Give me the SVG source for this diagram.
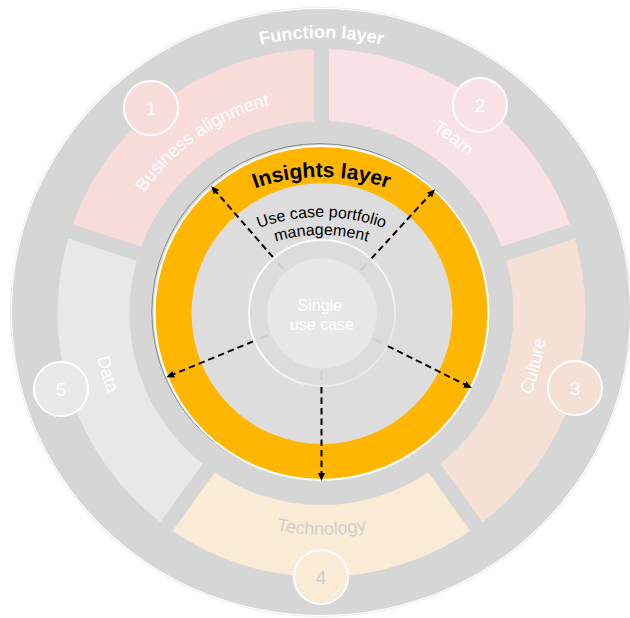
<svg xmlns="http://www.w3.org/2000/svg" xmlns:xlink="http://www.w3.org/1999/xlink" width="630" height="618" viewBox="0 0 630 618">
  <style>
    .seg-label { font-family: "Liberation Sans", Arial, sans-serif; font-size: 18px; fill: #ffffff; }
    .num { font-family: "Liberation Sans", Arial, sans-serif; font-size: 19px; fill: #ffffff; text-anchor: middle; }
    .num-ring { stroke: #ffffff; stroke-width: 2; }
    .gap { stroke: #d6d6d6; stroke-width: 15; stroke-linecap: butt; }
    .arrow { fill: none; stroke: #000000; stroke-width: 2; stroke-dasharray: 6.5 4; }
    .tick { fill: none; stroke: #cdcdcd; stroke-width: 2; }
  </style>
  <defs>
    <!-- text baselines -->
    <path id="arcFunction" d="M 83.3 175.5 A 275 275 0 0 1 559.7 175.5"/>
    <path id="arcTop" d="M 107.5 313 A 214 214 0 0 1 535.5 313"/>
    <path id="arcRight" d="M 321.5 538 A 225 225 0 0 0 321.5 88"/>
    <path id="arcLeft" d="M 321.5 84.5 A 228.5 228.5 0 0 0 321.5 541.5"/>
    <path id="arcBottom" d="M 99.5 313 A 222 222 0 0 0 543.5 313"/>
    <path id="arcInsights" d="M 121.5 377 A 200 200 0 0 1 521.5 377"/>
    <path id="arcUse1" d="M 139.5 399 A 182 182 0 0 1 503.5 399"/>
    <path id="arcUse2" d="M 157.5 399 A 164 164 0 0 1 485.5 399"/>
    <marker id="head" viewBox="0 0 8 7" refX="8" refY="3.5" markerWidth="8" markerHeight="7" markerUnits="userSpaceOnUse" orient="auto">
      <path d="M0,0 L8,3.5 L0,7 z" fill="#000000"/>
    </marker>
    <linearGradient id="ringLight" x1="0" y1="0" x2="1" y2="1">
      <stop offset="0" stop-color="#ffffff" stop-opacity="1"/>
      <stop offset="0.6" stop-color="#ffffff" stop-opacity="0.7"/>
      <stop offset="1" stop-color="#ffffff" stop-opacity="0.1"/>
    </linearGradient>
  </defs>

  <!-- outer function layer disk -->
  <g id="function-layer">
    <ellipse cx="321" cy="312" rx="311" ry="305" fill="#ececec"/>
    <ellipse cx="321" cy="312" rx="310" ry="304" fill="#ffffff"/>
    <ellipse cx="321" cy="312" rx="309" ry="303" fill="#d6d6d6"/>
    <text font-family="'Liberation Sans', Arial, sans-serif" font-size="18" font-weight="bold" fill="#ffffff" text-anchor="middle"><textPath href="#arcFunction" xlink:href="#arcFunction" startOffset="50%">Function layer</textPath></text>
  </g>

  <!-- five function segments -->
  <g id="business-alignment">
    <path d="M 70.42 231.42 A 264 264 0 0 1 321.5 49 L 321.5 121 A 192 192 0 0 0 138.90 253.67 Z" fill="#f8dcda"/>
  </g>
  <g id="team">
    <path d="M 321.5 49 A 264 264 0 0 1 572.58 231.42 L 504.10 253.67 A 192 192 0 0 0 321.5 121 Z" fill="#f8e2e6"/>
  </g>
  <g id="culture">
    <path d="M 572.58 231.42 A 264 264 0 0 1 476.68 526.58 L 434.36 468.33 A 192 192 0 0 0 504.10 253.67 Z" fill="#f4e0d5"/>
  </g>
  <g id="technology">
    <path d="M 476.68 526.58 A 264 264 0 0 1 166.32 526.58 L 208.64 468.33 A 192 192 0 0 0 434.36 468.33 Z" fill="#faebd6"/>
  </g>
  <g id="data">
    <path d="M 166.32 526.58 A 264 264 0 0 1 70.42 231.42 L 138.90 253.67 A 192 192 0 0 0 208.64 468.33 Z" fill="#e8e8e8"/>
  </g>

  <!-- separators between segments -->
  <g id="separators">
    <line class="gap" x1="321.5" y1="128" x2="321.5" y2="45"/>
    <line class="gap" x1="497.4" y1="255.8" x2="576.4" y2="230.2"/>
    <line class="gap" x1="430.2" y1="462.7" x2="479.0" y2="529.8"/>
    <line class="gap" x1="212.8" y1="462.7" x2="164.0" y2="529.8"/>
    <line class="gap" x1="145.6" y1="255.8" x2="66.6" y2="230.2"/>
  </g>

  <!-- segment labels and numbers -->
  <g id="business-alignment-label">
    <text class="seg-label" text-anchor="middle"><textPath href="#arcTop" xlink:href="#arcTop" startOffset="30.6%">Business alignment</textPath></text>
    <circle class="num-ring" cx="151" cy="108" r="27" fill="#f8dcda"/>
    <text class="num" x="151" y="115">1</text>
  </g>
  <g id="team-label">
    <text class="seg-label" text-anchor="middle"><textPath href="#arcTop" xlink:href="#arcTop" startOffset="70.6%">Team</textPath></text>
    <circle class="num-ring" cx="480" cy="105" r="27" fill="#f8e2e6"/>
    <text class="num" x="480" y="112">2</text>
  </g>
  <g id="culture-label">
    <text class="seg-label" text-anchor="middle"><textPath href="#arcRight" xlink:href="#arcRight" startOffset="42.2%">Culture</textPath></text>
    <circle class="num-ring" cx="575" cy="388" r="27" fill="#f4e0d5"/>
    <text class="num" x="575" y="395">3</text>
  </g>
  <g id="technology-label">
    <text class="seg-label" text-anchor="middle" style="fill:#cfcfcf"><textPath href="#arcBottom" xlink:href="#arcBottom" startOffset="50%">Technology</textPath></text>
    <circle class="num-ring" cx="321" cy="577" r="27" fill="#faebd6"/>
    <text class="num" x="321" y="584" style="fill:#cfcfcf">4</text>
  </g>
  <g id="data-label">
    <text class="seg-label" text-anchor="middle"><textPath href="#arcLeft" xlink:href="#arcLeft" startOffset="58.9%">Data</textPath></text>
    <circle class="num-ring" cx="61" cy="389" r="27" fill="#e8e8e8"/>
    <text class="num" x="61" y="396">5</text>
  </g>

  <!-- insights layer ring -->
  <g id="insights-layer">
    <circle cx="319.8" cy="311.6" r="168" fill="none" stroke="#8a8a8a" stroke-width="1"/>
    <circle cx="321.5" cy="313" r="168" fill="#ffffff"/>
    <circle cx="321.5" cy="313" r="166" fill="#ffb600"/>
    <text font-family="'Liberation Sans', Arial, sans-serif" font-size="21" font-weight="bold" fill="#000000" text-anchor="middle"><textPath href="#arcInsights" xlink:href="#arcInsights" startOffset="50%">Insights layer</textPath></text>
  </g>

  <!-- use case portfolio management -->
  <g id="portfolio">
    <circle cx="322" cy="313.5" r="130.5" fill="#dddddd"/>
    <text font-family="'Liberation Sans', Arial, sans-serif" font-size="16" fill="#000000" text-anchor="middle"><textPath href="#arcUse1" xlink:href="#arcUse1" startOffset="50%">Use case portfolio</textPath></text>
    <text font-family="'Liberation Sans', Arial, sans-serif" font-size="16" fill="#000000" text-anchor="middle"><textPath href="#arcUse2" xlink:href="#arcUse2" startOffset="50%">management</textPath></text>
  </g>

  <!-- single use case hub -->
  <g id="single-use-case">
    <circle cx="322" cy="313" r="73" fill="#dcdcdc" stroke="url(#ringLight)" stroke-width="2"/>
    <circle cx="322" cy="313.5" r="55" fill="#e7e7e7"/>
    <text font-family="'Liberation Sans', Arial, sans-serif" font-size="16" fill="#ffffff" text-anchor="middle">
      <tspan x="322" y="311">Single</tspan>
      <tspan x="322" y="330">use case</tspan>
    </text>
  </g>

  <!-- dashed connectors from hub to insights ring -->
  <g id="connectors">
    <line class="tick" x1="283.45" y1="269.23" x2="277.54" y2="262.44"/>
    <line class="tick" x1="360.68" y1="270.24" x2="366.77" y2="263.6"/>
    <line class="tick" x1="267.91" y1="335.2" x2="259.6" y2="338.64"/>
    <line class="tick" x1="373.4" y1="338.88" x2="381.46" y2="342.9"/>
    <line class="tick" x1="321.5" y1="371" x2="321.5" y2="380"/>
    <line class="arrow" x1="272.95" y1="257.15" x2="211.28" y2="186.21" marker-end="url(#head)"/>
    <line class="arrow" x1="371.49" y1="258.44" x2="435.0" y2="189.13" marker-end="url(#head)"/>
    <line class="arrow" x1="253.13" y1="341.32" x2="166.28" y2="377.29" marker-end="url(#head)"/>
    <line class="arrow" x1="387.72" y1="346.02" x2="471.84" y2="387.96" marker-end="url(#head)"/>
    <line class="arrow" x1="321.5" y1="387" x2="321.5" y2="481" marker-end="url(#head)"/>
  </g>
</svg>
